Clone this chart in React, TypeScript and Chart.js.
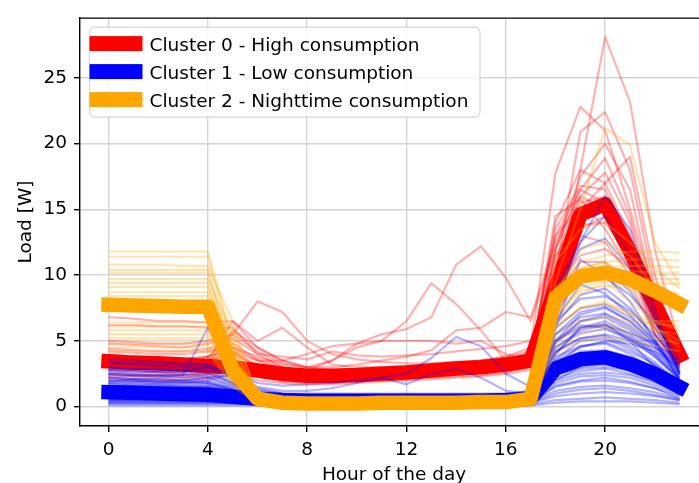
import React, { useEffect, useRef } from "react";
import { Chart, registerables } from "chart.js";

Chart.register(...registerables);

const HOURS = [0, 1, 2, 3, 4, 5, 6, 7, 8, 9, 10, 11, 12, 13, 14, 15, 16, 17, 18, 19, 20, 21, 22, 23];
const X_TICKS = [0, 4, 8, 12, 16, 20];
const Y_TICKS = [0, 5, 10, 15, 20, 25];
const X_LABEL = "Hour of the day";
const Y_LABEL = "Load [W]";
const LEGEND_LABELS = ["Cluster 0 - High consumption", "Cluster 1 - Low consumption", "Cluster 2 - Nighttime consumption"];
const COLORS = ["#ff0000", "#0000ff", "#ffa500"];
const THIN_COLORS = ["rgba(255,0,0,0.3)", "rgba(0,0,255,0.3)", "rgba(255,165,0,0.3)"];

// Cluster centroids
const CENTROID_0 = [3.45, 3.35, 3.3, 3.2, 3.1, 3.0, 2.75, 2.5, 2.35, 2.35, 2.4, 2.5, 2.6, 2.75, 2.9, 3.0, 3.2, 3.5, 9.0, 14.6, 15.4, 11.8, 7.8, 3.9];
const CENTROID_1 = [1.1, 1.05, 1.0, 0.95, 0.9, 0.75, 0.6, 0.5, 0.45, 0.45, 0.45, 0.45, 0.45, 0.45, 0.45, 0.45, 0.5, 0.6, 2.9, 3.6, 3.75, 3.25, 2.5, 1.5];
const CENTROID_2 = [7.75, 7.7, 7.65, 7.6, 7.6, 2.8, 0.6, 0.3, 0.25, 0.25, 0.25, 0.3, 0.3, 0.3, 0.3, 0.35, 0.35, 0.6, 8.3, 9.9, 10.2, 9.7, 8.8, 7.8];

// Individual daily profiles, cluster 0 (high consumption)
const PROFILES_0 = [
  [3.0, 2.9, 2.8, 2.8, 3.0, 3.5, 3.0, 2.5, 2.2, 2.2, 2.3, 2.4, 2.5, 2.6, 2.8, 3.0, 3.2, 3.8, 8.0, 18.0, 28.1, 23.2, 12.0, 4.5],
  [4.0, 3.8, 3.7, 3.6, 3.8, 4.5, 3.5, 2.8, 2.5, 2.5, 2.6, 2.8, 3.0, 3.2, 3.3, 3.5, 3.8, 4.5, 17.8, 22.8, 21.0, 15.0, 8.5, 3.8],
  [2.5, 2.4, 2.4, 2.3, 2.5, 3.0, 2.5, 2.0, 1.9, 1.9, 2.0, 2.1, 2.2, 2.3, 2.4, 2.6, 2.8, 3.2, 10.0, 20.9, 22.4, 18.0, 9.0, 3.5],
  [3.5, 3.4, 3.3, 3.3, 3.5, 4.0, 3.2, 2.6, 2.4, 2.4, 2.5, 2.6, 2.7, 2.9, 3.0, 3.2, 3.4, 3.8, 12.0, 17.5, 20.0, 16.5, 8.0, 3.8],
  [6.8, 6.7, 6.5, 6.5, 6.4, 6.5, 4.5, 3.5, 3.0, 2.8, 2.8, 2.9, 3.0, 3.2, 3.3, 3.5, 3.8, 4.2, 13.0, 16.5, 18.9, 14.5, 7.5, 4.2],
  [3.2, 3.1, 3.0, 3.0, 3.8, 5.5, 8.0, 7.2, 5.0, 4.0, 3.6, 3.4, 3.3, 3.3, 3.4, 3.5, 3.6, 4.0, 11.0, 16.0, 17.8, 14.0, 7.0, 3.6],
  [2.8, 2.7, 2.6, 2.6, 3.5, 6.5, 5.0, 6.0, 4.5, 3.2, 3.0, 3.0, 3.1, 3.2, 3.3, 3.4, 3.5, 3.8, 13.5, 16.8, 16.5, 12.5, 6.5, 3.2],
  [2.5, 2.4, 2.4, 2.4, 2.6, 3.0, 2.8, 2.5, 2.8, 3.5, 4.8, 5.5, 5.9, 6.8, 10.8, 12.2, 9.8, 6.5, 12.0, 15.5, 16.0, 12.5, 6.8, 3.2],
  [3.8, 3.7, 3.6, 3.6, 3.8, 4.2, 3.5, 3.5, 4.0, 4.6, 4.8, 5.0, 6.5, 9.4, 7.8, 5.8, 3.5, 3.8, 11.5, 14.8, 15.2, 12.0, 6.5, 3.5],
  [4.2, 4.1, 4.0, 4.0, 4.2, 4.5, 3.8, 3.2, 3.0, 3.0, 3.2, 3.5, 3.8, 4.3, 5.8, 6.0, 7.2, 6.8, 12.5, 16.0, 15.0, 11.0, 6.0, 4.0],
  [2.2, 2.1, 2.1, 2.0, 2.2, 2.8, 2.3, 1.9, 1.8, 1.8, 1.9, 2.0, 2.1, 2.2, 2.3, 2.4, 2.6, 3.0, 12.0, 16.5, 15.5, 11.0, 5.5, 3.0],
  [3.0, 2.9, 2.9, 2.8, 3.2, 5.8, 4.5, 3.5, 3.0, 3.5, 4.5, 5.0, 5.0, 5.0, 4.8, 5.0, 4.0, 3.5, 14.0, 18.0, 17.0, 13.0, 7.0, 3.8],
  [2.0, 1.9, 1.9, 1.8, 2.0, 2.5, 2.0, 1.8, 1.7, 1.7, 1.8, 1.9, 2.0, 2.1, 2.2, 2.3, 2.5, 2.8, 8.5, 11.0, 11.0, 9.5, 5.5, 2.8],
  [4.8, 4.7, 4.6, 4.5, 4.8, 5.2, 4.0, 3.8, 3.6, 4.2, 3.9, 3.8, 3.9, 4.0, 4.2, 4.4, 4.6, 5.0, 10.0, 13.5, 14.5, 12.5, 8.0, 4.5],
  [6.2, 6.2, 6.1, 6.1, 6.0, 6.0, 4.0, 3.0, 2.6, 2.5, 2.5, 2.6, 2.7, 2.8, 2.9, 3.0, 3.2, 3.6, 9.0, 11.5, 12.0, 10.5, 6.5, 3.5],
  [3.6, 3.5, 3.4, 3.4, 3.5, 4.2, 3.0, 2.4, 2.2, 2.2, 2.3, 2.4, 2.5, 2.6, 2.7, 2.9, 3.1, 3.5, 14.5, 15.8, 13.5, 10.5, 5.5, 3.2],
  [2.8, 2.7, 2.6, 2.6, 2.8, 3.2, 2.7, 2.2, 2.0, 2.0, 2.1, 2.2, 2.3, 2.4, 2.5, 2.7, 2.9, 3.3, 9.5, 15.0, 17.0, 19.0, 10.0, 3.6],
  [5.0, 4.9, 4.8, 4.8, 5.0, 5.5, 4.2, 3.3, 2.9, 2.8, 2.8, 2.9, 3.0, 3.1, 3.2, 3.3, 3.5, 4.0, 11.5, 13.0, 12.5, 10.0, 7.0, 4.8],
  [2.3, 2.3, 2.2, 2.2, 2.4, 2.9, 2.4, 2.1, 2.0, 2.1, 2.2, 2.3, 2.4, 2.5, 2.6, 2.8, 3.0, 3.4, 10.5, 13.8, 14.0, 11.5, 6.0, 3.0],
  [4.4, 4.3, 4.2, 4.2, 4.4, 4.8, 3.6, 3.0, 2.7, 2.7, 2.8, 2.9, 3.0, 3.1, 3.2, 3.4, 3.6, 4.1, 13.0, 15.2, 14.8, 12.0, 7.5, 4.2],
];

// Individual daily profiles, cluster 1 (low consumption)
const PROFILES_1 = [
  [0.3, 0.3, 0.3, 0.3, 0.3, 0.3, 0.2, 0.2, 0.2, 0.2, 0.2, 0.2, 0.2, 0.2, 0.2, 0.2, 0.2, 0.3, 0.8, 1.0, 1.1, 1.0, 0.8, 0.5],
  [0.5, 0.5, 0.5, 0.5, 0.5, 0.4, 0.3, 0.3, 0.3, 0.3, 0.3, 0.3, 0.3, 0.3, 0.3, 0.3, 0.3, 0.4, 1.5, 1.9, 2.0, 1.8, 1.4, 0.8],
  [0.8, 0.8, 0.8, 0.7, 0.7, 0.6, 0.4, 0.4, 0.4, 0.4, 0.4, 0.4, 0.4, 0.4, 0.4, 0.4, 0.4, 0.5, 2.2, 2.7, 2.9, 2.5, 1.9, 1.1],
  [1.2, 1.2, 1.1, 1.1, 1.0, 0.8, 0.5, 0.4, 0.4, 0.4, 0.4, 0.4, 0.4, 0.4, 0.4, 0.4, 0.5, 0.6, 3.0, 3.8, 4.0, 3.5, 2.6, 1.5],
  [1.5, 1.5, 1.4, 1.4, 1.4, 1.0, 0.6, 0.5, 0.5, 0.5, 0.5, 0.5, 0.5, 0.5, 0.5, 0.5, 0.5, 0.7, 3.8, 4.6, 4.9, 4.2, 3.2, 1.9],
  [0.4, 0.4, 0.4, 0.4, 0.4, 0.3, 0.3, 0.3, 0.3, 0.3, 0.3, 0.3, 0.3, 0.3, 0.3, 0.3, 0.3, 0.4, 1.2, 1.5, 1.6, 1.4, 1.1, 0.6],
  [1.0, 0.9, 0.9, 0.9, 0.9, 0.7, 0.5, 0.4, 0.4, 0.4, 0.4, 0.4, 0.4, 0.4, 0.4, 0.4, 0.4, 0.5, 2.6, 3.2, 3.4, 3.0, 2.3, 1.3],
  [2.0, 2.0, 1.9, 1.9, 1.8, 1.3, 0.8, 0.6, 0.6, 0.6, 0.6, 0.6, 0.6, 0.6, 0.6, 0.6, 0.6, 0.8, 4.5, 5.6, 5.9, 5.1, 3.8, 2.2],
  [2.6, 2.5, 2.4, 2.4, 2.3, 1.6, 1.0, 0.7, 0.7, 0.7, 0.7, 0.7, 0.7, 0.7, 0.7, 0.7, 0.7, 0.9, 5.5, 6.8, 7.1, 6.2, 4.6, 2.8],
  [3.3, 3.2, 3.1, 3.0, 3.0, 2.0, 1.2, 0.9, 0.9, 0.9, 0.9, 0.9, 0.9, 0.9, 0.9, 0.9, 0.9, 1.1, 6.5, 8.2, 8.4, 7.3, 5.5, 3.2],
  [1.8, 1.7, 1.7, 1.6, 1.6, 1.2, 0.7, 0.5, 0.5, 0.5, 0.5, 0.5, 0.5, 0.5, 0.5, 0.5, 0.6, 0.9, 8.0, 12.5, 16.0, 13.5, 7.5, 2.5],
  [1.4, 1.3, 1.3, 1.3, 1.2, 0.9, 0.6, 0.5, 0.5, 0.5, 0.5, 0.5, 0.5, 0.5, 0.5, 0.5, 0.5, 0.8, 6.0, 11.2, 10.0, 8.0, 5.0, 2.0],
  [2.2, 2.1, 2.0, 2.0, 2.2, 2.4, 1.5, 1.2, 1.2, 1.4, 1.8, 2.2, 2.5, 3.7, 5.3, 4.6, 2.5, 1.5, 4.0, 6.0, 6.5, 5.5, 4.0, 2.0],
  [2.8, 2.8, 2.7, 2.7, 3.0, 2.6, 1.8, 1.6, 1.7, 1.8, 2.0, 2.2, 1.7, 2.5, 2.9, 2.2, 1.2, 1.0, 5.0, 7.0, 7.5, 6.5, 4.8, 2.5],
  [2.5, 2.4, 2.3, 2.4, 6.0, 2.5, 1.0, 0.8, 0.8, 0.8, 0.8, 0.8, 0.8, 0.8, 0.8, 0.8, 0.8, 1.0, 4.5, 5.8, 6.2, 5.3, 4.0, 2.2],
  [3.6, 3.5, 3.4, 3.3, 3.2, 2.3, 1.4, 1.0, 0.9, 0.9, 0.9, 0.9, 0.9, 0.9, 0.9, 0.9, 0.9, 1.2, 7.5, 9.5, 9.8, 8.5, 6.4, 3.6],
  [0.6, 0.6, 0.6, 0.6, 0.6, 0.5, 0.3, 0.3, 0.3, 0.3, 0.3, 0.3, 0.3, 0.3, 0.3, 0.3, 0.3, 0.4, 1.8, 2.3, 2.4, 2.2, 1.6, 0.9],
  [0.2, 0.2, 0.2, 0.2, 0.2, 0.2, 0.2, 0.1, 0.1, 0.1, 0.1, 0.1, 0.1, 0.1, 0.1, 0.1, 0.1, 0.2, 0.5, 0.6, 0.7, 0.6, 0.5, 0.3],
  [1.1, 1.1, 1.0, 1.0, 1.0, 0.8, 0.5, 0.4, 0.4, 0.4, 0.4, 0.4, 0.4, 0.4, 0.4, 0.4, 0.4, 0.6, 3.4, 4.2, 4.3, 3.8, 2.9, 1.6],
  [1.3, 1.3, 1.2, 1.2, 1.2, 0.9, 0.6, 0.5, 0.5, 0.5, 0.5, 0.5, 0.5, 0.5, 0.5, 0.5, 0.5, 0.7, 4.2, 5.2, 5.4, 4.6, 3.4, 1.8],
  [2.2, 2.1, 2.1, 2.0, 2.0, 1.4, 0.8, 0.6, 0.6, 0.6, 0.6, 0.6, 0.6, 0.6, 0.6, 0.6, 0.6, 0.9, 8.5, 12.0, 12.8, 10.5, 6.5, 2.6],
  [0.9, 0.9, 0.9, 0.8, 0.8, 0.6, 0.4, 0.3, 0.3, 0.3, 0.3, 0.3, 0.3, 0.3, 0.3, 0.3, 0.3, 0.5, 3.2, 4.6, 4.8, 4.0, 2.8, 1.2],
  [1.7, 1.6, 1.6, 1.5, 1.5, 1.1, 0.6, 0.5, 0.5, 0.5, 0.5, 0.5, 0.5, 0.5, 0.5, 0.5, 0.5, 0.7, 5.0, 6.2, 6.0, 5.2, 3.8, 2.0],
  [1.9, 1.9, 1.8, 1.8, 1.8, 1.3, 0.7, 0.6, 0.6, 0.6, 0.6, 0.6, 0.6, 0.6, 0.6, 0.6, 0.6, 0.8, 6.5, 9.3, 8.6, 7.0, 5.0, 2.6],
  [0.7, 0.7, 0.7, 0.7, 0.7, 0.5, 0.4, 0.3, 0.3, 0.3, 0.3, 0.3, 0.3, 0.3, 0.3, 0.3, 0.3, 0.4, 2.0, 3.0, 3.2, 2.7, 2.0, 1.0],
  [2.9, 2.8, 2.7, 2.7, 2.6, 1.8, 1.0, 0.8, 0.8, 0.8, 0.8, 0.8, 0.8, 0.8, 0.8, 0.8, 0.8, 1.0, 3.5, 4.5, 5.0, 4.8, 4.2, 3.0],
  [0.1, 0.1, 0.1, 0.1, 0.1, 0.1, 0.1, 0.1, 0.1, 0.1, 0.1, 0.1, 0.1, 0.1, 0.1, 0.1, 0.1, 0.1, 0.3, 0.4, 0.4, 0.4, 0.3, 0.2],
  [1.6, 1.5, 1.5, 1.5, 1.4, 1.0, 0.6, 0.5, 0.5, 0.5, 0.5, 0.5, 0.5, 0.5, 0.5, 0.5, 0.5, 0.7, 2.8, 3.5, 3.8, 3.6, 3.0, 1.8],
  [1.5, 1.5, 1.4, 1.4, 1.4, 1.0, 0.6, 0.5, 0.5, 0.5, 0.5, 0.5, 0.5, 0.5, 0.5, 0.5, 0.5, 0.8, 9.0, 12.5, 14.5, 11.5, 7.0, 2.4],
  [0.8, 0.8, 0.8, 0.8, 0.8, 0.6, 0.4, 0.4, 0.4, 0.4, 0.4, 0.4, 0.4, 0.4, 0.4, 0.4, 0.4, 0.5, 2.4, 2.9, 3.0, 2.8, 2.2, 1.2],
  [0.4, 0.4, 0.4, 0.4, 0.4, 0.3, 0.2, 0.2, 0.2, 0.2, 0.2, 0.2, 0.2, 0.2, 0.2, 0.2, 0.2, 0.3, 1.0, 1.3, 1.4, 1.2, 0.9, 0.5],
  [1.0, 1.0, 1.0, 1.0, 0.9, 0.7, 0.4, 0.4, 0.4, 0.4, 0.4, 0.4, 0.4, 0.4, 0.4, 0.4, 0.4, 0.5, 2.0, 2.5, 2.6, 2.4, 1.8, 1.0],
  [2.4, 2.3, 2.3, 2.2, 2.2, 1.5, 0.9, 0.7, 0.7, 0.7, 0.7, 0.7, 0.7, 0.7, 0.7, 0.7, 0.7, 0.9, 5.0, 6.5, 6.8, 5.8, 4.2, 2.4],
  [3.0, 2.9, 2.9, 2.8, 2.8, 1.8, 1.0, 0.8, 0.8, 0.8, 0.8, 0.8, 0.8, 0.8, 0.8, 0.8, 0.8, 1.0, 6.0, 7.5, 7.8, 6.8, 5.0, 3.0],
  [1.2, 1.2, 1.1, 1.1, 1.1, 0.8, 0.5, 0.4, 0.4, 0.4, 0.4, 0.4, 0.4, 0.4, 0.4, 0.4, 0.4, 0.6, 3.6, 5.0, 5.2, 4.4, 3.2, 1.6],
  [0.6, 0.6, 0.6, 0.6, 0.6, 0.5, 0.3, 0.3, 0.3, 0.3, 0.3, 0.3, 0.3, 0.3, 0.3, 0.3, 0.3, 0.5, 2.6, 3.6, 3.8, 3.2, 2.4, 1.0],
  [1.8, 1.8, 1.7, 1.7, 1.7, 1.2, 0.7, 0.6, 0.6, 0.6, 0.6, 0.6, 0.6, 0.6, 0.6, 0.6, 0.6, 0.8, 5.5, 7.2, 7.6, 6.5, 4.8, 2.4],
  [2.7, 2.6, 2.6, 2.5, 2.5, 1.7, 1.0, 0.8, 0.8, 0.8, 0.8, 0.8, 0.8, 0.8, 0.8, 0.8, 0.8, 1.0, 4.2, 5.2, 5.5, 5.0, 4.5, 3.2],
  [0.9, 0.9, 0.9, 0.9, 0.9, 0.7, 0.4, 0.3, 0.3, 0.3, 0.3, 0.3, 0.3, 0.3, 0.3, 0.3, 0.3, 0.5, 4.0, 6.0, 6.3, 5.0, 3.0, 1.2],
  [1.4, 1.4, 1.3, 1.3, 1.3, 1.0, 0.6, 0.5, 0.5, 0.5, 0.5, 0.5, 0.5, 0.5, 0.5, 0.5, 0.5, 0.7, 6.2, 8.5, 9.0, 7.5, 5.2, 2.0],
  [0.3, 0.3, 0.3, 0.3, 0.3, 0.3, 0.2, 0.2, 0.2, 0.2, 0.2, 0.2, 0.2, 0.2, 0.2, 0.2, 0.2, 0.3, 1.6, 2.0, 2.2, 1.9, 1.4, 0.6],
  [2.0, 2.0, 1.9, 1.9, 1.9, 1.3, 0.8, 0.6, 0.6, 0.6, 0.6, 0.6, 0.6, 0.6, 0.6, 0.6, 0.6, 0.9, 7.0, 10.0, 10.5, 8.8, 6.0, 2.6],
  [0.5, 0.5, 0.5, 0.5, 0.5, 0.4, 0.3, 0.3, 0.3, 0.3, 0.3, 0.3, 0.3, 0.3, 0.3, 0.3, 0.3, 0.4, 3.0, 4.0, 4.2, 3.6, 2.5, 1.0],
  [3.4, 3.3, 3.3, 3.2, 3.2, 2.2, 1.3, 1.0, 1.0, 1.0, 1.0, 1.0, 1.0, 1.0, 1.0, 1.0, 1.0, 1.2, 5.0, 6.0, 6.2, 5.6, 4.8, 3.5],
  [1.6, 1.6, 1.5, 1.5, 1.5, 1.1, 0.6, 0.5, 0.5, 0.5, 0.5, 0.5, 0.5, 0.5, 0.5, 0.5, 0.5, 0.8, 4.8, 6.5, 7.0, 6.0, 4.5, 2.2],
];

// Individual daily profiles, cluster 2 (nighttime consumption)
const PROFILES_2 = [
  [11.8, 11.8, 11.8, 11.8, 11.8, 5.0, 0.4, 0.3, 0.3, 0.3, 0.3, 0.3, 0.3, 0.3, 0.3, 0.3, 0.3, 0.5, 9.0, 11.0, 11.5, 11.8, 11.8, 11.7],
  [11.4, 11.4, 11.4, 11.4, 11.4, 4.5, 0.3, 0.2, 0.2, 0.2, 0.2, 0.2, 0.2, 0.2, 0.2, 0.2, 0.2, 0.4, 8.5, 10.5, 11.0, 11.2, 11.2, 11.1],
  [10.8, 10.8, 10.8, 10.7, 10.7, 6.5, 0.5, 0.3, 0.3, 0.3, 0.3, 0.3, 0.3, 0.3, 0.3, 0.3, 0.3, 0.5, 7.8, 10.0, 10.6, 10.7, 10.7, 10.6],
  [10.4, 10.4, 10.4, 10.4, 10.4, 4.0, 0.3, 0.2, 0.2, 0.2, 0.2, 0.2, 0.2, 0.2, 0.2, 0.2, 0.2, 0.6, 9.5, 15.0, 21.2, 19.9, 12.5, 9.3],
  [10.2, 10.2, 10.2, 10.2, 10.2, 3.5, 0.3, 0.2, 0.2, 0.2, 0.2, 0.2, 0.2, 0.2, 0.2, 0.2, 0.2, 0.4, 8.0, 9.8, 10.3, 10.3, 10.2, 10.2],
  [9.7, 9.7, 9.7, 9.7, 9.7, 5.5, 0.4, 0.3, 0.3, 0.3, 0.3, 0.3, 0.3, 0.3, 0.3, 0.3, 0.3, 0.5, 7.0, 9.0, 9.6, 9.7, 9.7, 9.7],
  [9.4, 9.4, 9.4, 9.4, 9.4, 3.0, 0.3, 0.2, 0.2, 0.2, 0.2, 0.2, 0.2, 0.2, 0.2, 0.2, 0.2, 0.4, 7.5, 9.5, 9.7, 9.5, 9.4, 9.3],
  [9.1, 9.1, 9.1, 9.1, 9.1, 4.8, 0.4, 0.3, 0.3, 0.3, 0.3, 0.3, 0.3, 0.3, 0.3, 0.3, 0.3, 0.6, 11.0, 13.5, 14.0, 12.5, 10.5, 9.0],
  [8.7, 8.7, 8.7, 8.7, 8.7, 4.2, 0.3, 0.2, 0.2, 0.2, 0.2, 0.2, 0.2, 0.2, 0.2, 0.2, 0.2, 0.4, 7.0, 8.8, 9.2, 9.0, 8.8, 8.6],
  [8.4, 8.4, 8.4, 8.4, 8.4, 3.8, 0.3, 0.2, 0.2, 0.2, 0.2, 0.2, 0.2, 0.2, 0.2, 0.2, 0.2, 0.5, 8.5, 12.0, 12.5, 11.5, 9.0, 8.0],
  [6.4, 6.4, 6.4, 6.4, 6.4, 6.0, 0.8, 0.3, 0.3, 0.3, 0.3, 0.3, 0.3, 0.3, 0.3, 0.3, 0.3, 0.5, 6.0, 7.5, 8.0, 7.0, 6.5, 6.5],
  [6.1, 6.1, 6.1, 6.1, 6.1, 3.0, 0.3, 0.2, 0.2, 0.2, 0.2, 0.2, 0.2, 0.2, 0.2, 0.2, 0.2, 0.4, 5.5, 6.5, 6.8, 6.5, 6.3, 6.15],
  [5.8, 5.8, 5.8, 5.8, 5.8, 2.5, 0.3, 0.2, 0.2, 0.2, 0.2, 0.2, 0.2, 0.2, 0.2, 0.2, 0.2, 0.4, 6.5, 8.5, 9.5, 8.0, 6.5, 5.8],
  [5.5, 5.5, 5.5, 5.5, 5.5, 2.0, 0.3, 0.2, 0.2, 0.2, 0.2, 0.2, 0.2, 0.2, 0.2, 0.2, 0.2, 0.4, 5.0, 6.0, 6.2, 6.0, 5.8, 5.5],
  [5.2, 5.2, 5.2, 5.2, 5.2, 2.8, 0.3, 0.2, 0.2, 0.2, 0.2, 0.2, 0.2, 0.2, 0.2, 0.2, 0.2, 0.5, 7.0, 10.5, 11.0, 9.0, 6.0, 5.0],
  [4.8, 4.8, 4.8, 4.8, 4.8, 2.2, 0.3, 0.2, 0.2, 0.2, 0.2, 0.2, 0.2, 0.2, 0.2, 0.2, 0.2, 0.4, 4.5, 5.5, 6.0, 5.5, 5.2, 4.8],
  [4.5, 4.5, 4.5, 4.5, 4.5, 1.8, 0.3, 0.2, 0.2, 0.2, 0.2, 0.2, 0.2, 0.2, 0.2, 0.2, 0.2, 0.4, 6.0, 7.5, 7.8, 7.2, 6.0, 4.5],
  [4.2, 4.2, 4.2, 4.2, 4.2, 1.5, 0.3, 0.2, 0.2, 0.2, 0.2, 0.2, 0.2, 0.2, 0.2, 0.2, 0.2, 0.4, 4.0, 5.0, 5.3, 5.0, 4.6, 4.2],
];

const FONT = '"DejaVu Sans", sans-serif';
const FONT_SIZE = 18.5;
const TEXT_COLOR = "#000000";

function toPoints(values: number[]) {
  return values.map((v, i) => ({ x: HOURS[i], y: v }));
}

const decorPlugin = {
  id: "decor",
  afterDraw(chart: any) {
    const ctx = chart.ctx;
    const a = chart.chartArea;
    const xs = chart.scales.x;
    ctx.save();
    // top spine
    ctx.strokeStyle = "#000";
    ctx.lineWidth = 1.4;
    ctx.beginPath();
    ctx.moveTo(a.left - 0.7, a.top);
    ctx.lineTo(a.right, a.top);
    ctx.stroke();

    // axis titles
    ctx.fillStyle = TEXT_COLOR;
    ctx.font = `${FONT_SIZE}px ${FONT}`;
    ctx.textAlign = "center";
    ctx.textBaseline = "alphabetic";
    const xCenter = xs.getPixelForValue((xs.min + (23 + 1.15)) / 2);
    ctx.fillText(X_LABEL, xCenter, 480);
    ctx.save();
    ctx.translate(31, (a.top + a.bottom) / 2);
    ctx.rotate(-Math.PI / 2);
    ctx.fillText(Y_LABEL, 0, 0);
    ctx.restore();

    // legend
    const lx = a.left + 9.5;
    const ly = a.top + 9;
    const lw = 390.5;
    const lh = 90;
    const r = 5;
    ctx.beginPath();
    ctx.moveTo(lx + r, ly);
    ctx.lineTo(lx + lw - r, ly);
    ctx.arcTo(lx + lw, ly, lx + lw, ly + r, r);
    ctx.lineTo(lx + lw, ly + lh - r);
    ctx.arcTo(lx + lw, ly + lh, lx + lw - r, ly + lh, r);
    ctx.lineTo(lx + r, ly + lh);
    ctx.arcTo(lx, ly + lh, lx, ly + lh - r, r);
    ctx.lineTo(lx, ly + r);
    ctx.arcTo(lx, ly, lx + r, ly, r);
    ctx.closePath();
    ctx.fillStyle = "rgba(255,255,255,0.8)";
    ctx.fill();
    ctx.strokeStyle = "rgba(204,204,204,0.8)";
    ctx.lineWidth = 1.2;
    ctx.stroke();

    ctx.textAlign = "left";
    ctx.font = `${FONT_SIZE}px ${FONT}`;
    LEGEND_LABELS.forEach((label, i) => {
      const cy = ly + 16.5 + i * 28;
      ctx.fillStyle = COLORS[i];
      ctx.fillRect(lx, cy - 7.5, 53, 15);
      ctx.fillStyle = TEXT_COLOR;
      ctx.fillText(label, lx + 60, cy + 7.5);
    });
    ctx.restore();
  },
};

export default function App() {
  const ref = useRef<HTMLCanvasElement | null>(null);

  useEffect(() => {
    if (!ref.current) return;
    const groups = [
      { profiles: PROFILES_0, centroid: CENTROID_0, idx: 0 },
      { profiles: PROFILES_1, centroid: CENTROID_1, idx: 1 },
      { profiles: PROFILES_2, centroid: CENTROID_2, idx: 2 },
    ];
    const drawOrder: any[] = [];
    groups.forEach((g) => {
      g.profiles.forEach((p) => {
        drawOrder.push({
          data: toPoints(p),
          borderColor: THIN_COLORS[g.idx],
          borderWidth: 2.2,
          pointRadius: 0,
          tension: 0,
          fill: false,
          borderJoinStyle: "round",
        });
      });
      drawOrder.push({
        data: toPoints(g.centroid),
        borderColor: COLORS[g.idx],
        borderWidth: 14.5,
        pointRadius: 0,
        tension: 0,
        fill: false,
        borderCapStyle: "square",
        borderJoinStyle: "round",
      });
    });
    const datasets = drawOrder.slice().reverse();

    const gridCommon = {
      color: "#d4d4d4",
      lineWidth: 1.4,
      drawTicks: true,
      tickLength: 6,
      tickColor: "#000",
      tickWidth: 1.4,
    };

    const chart = new Chart(ref.current, {
      type: "line",
      data: { datasets },
      options: {
        animation: false,
        responsive: false,
        events: [],
        layout: { padding: { top: 16, left: 0, right: 0, bottom: 0 } },
        plugins: { legend: { display: false }, tooltip: { enabled: false } },
        scales: {
          x: {
            type: "linear",
            min: -1.15,
            max: 23.78,
            grid: gridCommon as any,
            border: { display: true, color: "#000", width: 1.4 },
            ticks: { font: { family: FONT, size: FONT_SIZE }, color: TEXT_COLOR, padding: 7, maxRotation: 0 },
            afterBuildTicks: (scale: any) => {
              scale.ticks = X_TICKS.map((v) => ({ value: v }));
            },
            afterFit: (scale: any) => {
              scale.height = 57;
            },
          },
          y: {
            type: "linear",
            min: -1.47,
            max: 29.55,
            grid: gridCommon as any,
            border: { display: true, color: "#000", width: 1.4 },
            ticks: { font: { family: FONT, size: FONT_SIZE }, color: TEXT_COLOR, padding: 7 },
            afterBuildTicks: (scale: any) => {
              scale.ticks = Y_TICKS.map((v) => ({ value: v }));
            },
            afterFit: (scale: any) => {
              scale.width = 80;
            },
          },
        },
      } as any,
      plugins: [decorPlugin],
    });
    return () => chart.destroy();
  }, []);

  return (
    <div style={{ position: "absolute", left: 0, top: 0, width: 699, height: 483, background: "#fff" }}>
      <canvas ref={ref} width={699} height={483} style={{ display: "block", width: 699, height: 483 }} />
    </div>
  );
}
